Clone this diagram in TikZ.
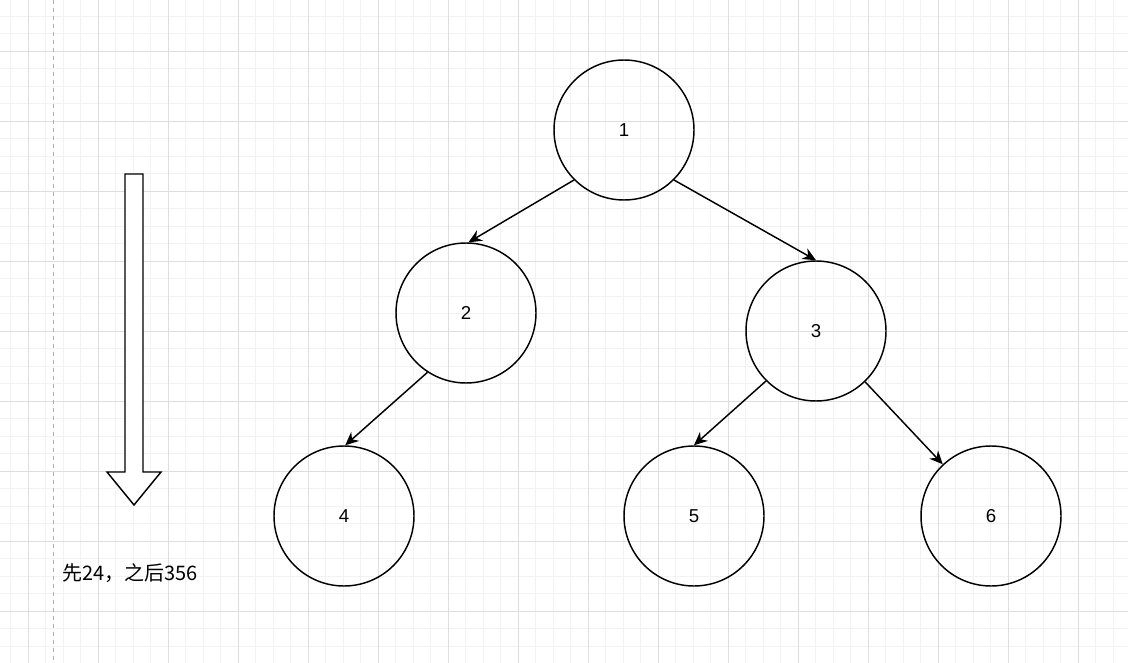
\documentclass[tikz,border=0pt]{standalone}
\usepackage{fontspec}
\setmainfont{Liberation Sans}
\newfontfamily\cjk{Noto Sans CJK SC}
\usetikzlibrary{arrows.meta}
\tikzstyle{treeNode} = [circle, draw=black, line width=1.1pt, minimum size=140*0.75pt, inner sep=0pt, font=\fontsize{14}{16}\selectfont]
\tikzstyle{treeEdge} = [draw=black, line width=1.1pt, -{Stealth[length=10pt,width=9pt]}]
\definecolor{gridColor}{RGB}{242,242,242}
\definecolor{gridMajor}{RGB}{222,222,222}
\begin{document}
\begin{tikzpicture}[x=0.75pt, y=-0.75pt]
  \fill[white] (0,0) rectangle (1128,663);
  \useasboundingbox (0,0) rectangle (1128,663);
  % grid
  \foreach \gx in {0,...,64} {\draw[gridColor, line width=0.6pt] (10.8+17.5*\gx,0) -- (10.8+17.5*\gx,663);}
  \foreach \gy in {0,...,37} {\draw[gridColor, line width=0.6pt] (0,16.3+17.5*\gy) -- (1128,16.3+17.5*\gy);}
  \foreach \gx in {0,...,16} {\draw[gridMajor, line width=0.6pt] (28.3+70*\gx,0) -- (28.3+70*\gx,663);}
  \foreach \gy in {0,...,9} {\draw[gridMajor, line width=0.6pt] (0,51.3+70*\gy) -- (1128,51.3+70*\gy);}
  \draw[gray!60, dashed, line width=0.6pt] (53,0) -- (53,663);
  % tree
  \node[treeNode] (one) at (624,130) {1};
  \node[treeNode] (two) at (466,313) {2};
  \node[treeNode] (three) at (816,331) {3};
  \node[treeNode] (four) at (344,516) {4};
  \node[treeNode] (five) at (694,516) {5};
  \node[treeNode] (six) at (991,516) {6};
  \draw[treeEdge] (one.225) -- (two.88);
  \draw[treeEdge] (one.315) -- (three.90);
  \draw[treeEdge] (two.237) -- (four.89);
  \draw[treeEdge] (three.225) -- (five.90);
  \draw[treeEdge] (three.314) -- (six.133);
  % order arrow
  \draw[line width=1.1pt, fill=white] (125,174) -- (143,174) -- (143,472) -- (161,472) -- (134,505)
    -- (107,472) -- (125,472) -- cycle;
  \node[anchor=west, inner sep=0pt, font=\cjk\fontsize{15}{18}\selectfont] (note) at (62,573) {先24，之后356};
\end{tikzpicture}
\end{document}
